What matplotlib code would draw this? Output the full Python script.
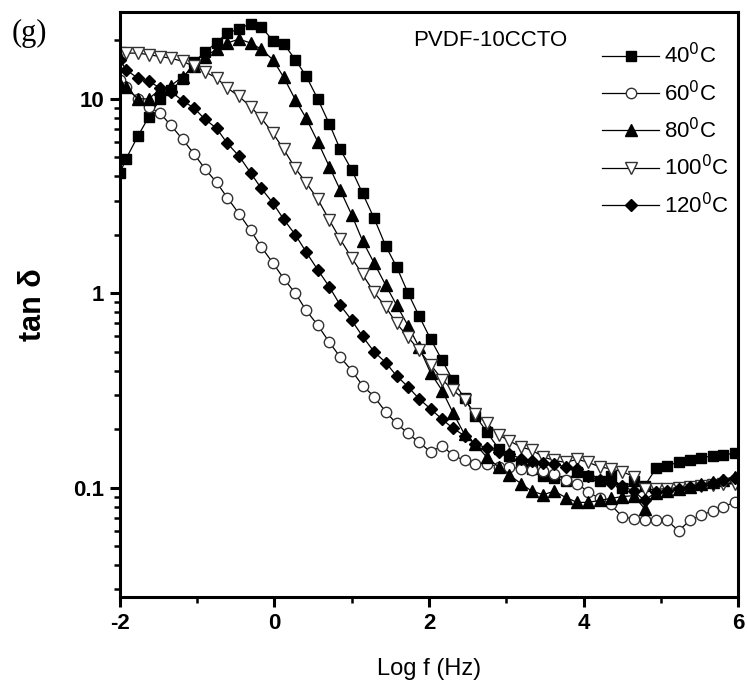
import numpy as np
import matplotlib
matplotlib.use("Agg")
import matplotlib.pyplot as plt
from matplotlib.ticker import FixedLocator, LogLocator, NullFormatter, FixedFormatter

plt.rcParams['font.family'] = ['Liberation Sans', 'DejaVu Sans']
plt.rcParams['axes.unicode_minus'] = False

# log frequency grid
logf = [-2.00, -1.92, -1.77, -1.63, -1.48, -1.34, -1.19, -1.04, -0.90, -0.75,
        -0.61, -0.46, -0.31, -0.17, -0.02, 0.12, 0.27, 0.41, 0.56, 0.71,
        0.85, 1.00, 1.14, 1.29, 1.44, 1.58, 1.73, 1.87, 2.02, 2.17,
        2.31, 2.46, 2.60, 2.75, 2.90, 3.04, 3.19, 3.33, 3.48, 3.62,
        3.77, 3.92, 4.06, 4.21, 4.35, 4.50, 4.65, 4.79, 4.94, 5.08,
        5.23, 5.38, 5.52, 5.67, 5.81, 5.96]

tan40 = [4.16, 4.93, 6.41, 8.05, 9.97, 11.1, 12.6, 15.5, 17.4, 19.5,
         21.8, 22.9, 24.4, 23.5, 19.9, 19.2, 15.9, 13.1, 10.0, 7.43,
         5.51, 4.31, 3.27, 2.43, 1.75, 1.37, 1.00, 0.766, 0.582, 0.452,
         0.356, 0.288, 0.235, 0.193, 0.159, 0.145, 0.132, 0.125, 0.115, 0.112,
         0.108, 0.120, 0.115, 0.108, 0.115, 0.100, 0.108, 0.102, 0.126, 0.130,
         0.135, 0.139, 0.142, 0.146, 0.148, 0.150]

tan60 = [12.5, 11.5, 10.0, 9.1, 8.44, 7.3, 6.2, 5.2, 4.37, 3.72,
         3.10, 2.57, 2.11, 1.73, 1.43, 1.19, 1.00, 0.817, 0.685, 0.56,
         0.47, 0.40, 0.335, 0.294, 0.245, 0.214, 0.19, 0.171, 0.153, 0.164,
         0.147, 0.138, 0.133, 0.133, 0.128, 0.128, 0.125, 0.124, 0.122, 0.118,
         0.110, 0.105, 0.095, 0.088, 0.082, 0.071, 0.069, 0.068, 0.068, 0.068,
         0.060, 0.068, 0.072, 0.076, 0.080, 0.084]

tan80 = [12.0, 11.5, 10.0, 10.0, 11.2, 11.7, 13.0, 14.7, 16.5, 18.0,
         19.4, 20.3, 19.4, 18.0, 15.9, 12.9, 9.9, 7.95, 6.02, 4.48,
         3.40, 2.53, 1.86, 1.43, 1.10, 0.87, 0.68, 0.53, 0.39, 0.316,
         0.243, 0.188, 0.168, 0.143, 0.128, 0.116, 0.105, 0.096, 0.092, 0.096,
         0.089, 0.084, 0.084, 0.086, 0.088, 0.090, 0.091, 0.078, 0.094, 0.096,
         0.098, 0.101, 0.104, 0.107, 0.110, 0.114]

tan100 = [17.2, 17.2, 17.2, 16.9, 16.5, 16.2, 15.6, 14.7, 13.8, 12.8,
          11.4, 10.3, 9.13, 7.95, 6.66, 5.5, 4.39, 3.70, 3.05, 2.38,
          1.90, 1.52, 1.25, 1.01, 0.85, 0.70, 0.595, 0.51, 0.43, 0.36,
          0.318, 0.283, 0.239, 0.215, 0.187, 0.174, 0.162, 0.156, 0.144, 0.138,
          0.135, 0.140, 0.135, 0.128, 0.125, 0.121, 0.114, 0.098, 0.098, 0.099,
          0.100, 0.101, 0.102, 0.103, 0.104, 0.105]

tan120 = [15.9, 14.1, 12.8, 12.3, 11.4, 10.9, 9.8, 8.96, 7.86, 7.06,
          5.9, 5.09, 4.17, 3.46, 2.91, 2.40, 2.00, 1.63, 1.32, 1.08,
          0.87, 0.726, 0.60, 0.50, 0.44, 0.376, 0.33, 0.287, 0.254, 0.225,
          0.202, 0.185, 0.168, 0.160, 0.153, 0.149, 0.141, 0.137, 0.134, 0.132,
          0.128, 0.125, 0.115, 0.109, 0.106, 0.102, 0.096, 0.086, 0.095, 0.096,
          0.098, 0.101, 0.103, 0.106, 0.109, 0.112]

labels = ['40$^0$C', '60$^0$C', '80$^0$C', '100$^0$C', '120$^0$C']

fig = plt.figure(figsize=(7.47, 6.88), dpi=100)
ax = fig.add_axes([0.1606, 0.1323, 0.8274, 0.8503])

ms = 7.5
ax.plot(logf, tan40, '-s', color='black', lw=0.9, ms=ms, mfc='black', label=labels[0])
ax.plot(logf, tan60, '-o', color='black', lw=0.9, ms=ms, mfc='white', mec='#333333', mew=1.0, label=labels[1])
ax.plot(logf, tan80, '-^', color='black', lw=0.9, ms=ms + 1, mfc='black', label=labels[2])
ax.plot(logf, tan100, '-v', color='black', lw=0.9, ms=ms + 1, mfc='white', mec='#333333', mew=1.0, label=labels[3])
ax.plot(logf, tan120, '-D', color='black', lw=0.9, ms=ms - 1, mfc='black', label=labels[4])

ax.set_yscale('log')
ax.set_xlim(-2, 6)
ax.set_ylim(0.0274, 28)

ax.xaxis.set_major_locator(FixedLocator([-2, 0, 2, 4, 6]))
ax.xaxis.set_minor_locator(FixedLocator([-1, 1, 3, 5]))
ax.yaxis.set_major_locator(FixedLocator([0.1, 1, 10]))
ax.yaxis.set_major_formatter(FixedFormatter(['0.1', '1', '10']))
ax.yaxis.set_minor_locator(LogLocator(base=10, subs=np.arange(2, 10)))
ax.yaxis.set_minor_formatter(NullFormatter())

for s in ax.spines.values():
    s.set_linewidth(2.2)
ax.tick_params(which='major', direction='out', length=7.5, width=2.2, labelsize=16, pad=4)
ax.tick_params(which='minor', direction='out', length=4.5, width=1.8)
for t in ax.get_xticklabels() + ax.get_yticklabels():
    t.set_fontweight('bold')

ax.set_xlabel('Log f (Hz)', fontsize=17, labelpad=17)
ax.set_ylabel('tan δ', fontsize=22, fontweight='bold', labelpad=18)

ax.text(0.599, 0.951, 'PVDF-10CCTO', transform=ax.transAxes, fontsize=16,
        ha='center', va='center')
fig.text(0.016, 0.952, '(g)', fontsize=22, family='Liberation Serif', ha='left', va='center')

ax.legend(loc='upper left', bbox_to_anchor=(0.765, 0.962), frameon=False,
          fontsize=16, handlelength=2.6, handletextpad=0.2, labelspacing=0.55,
          borderaxespad=0.0)

fig.savefig('out.png', dpi=100)
